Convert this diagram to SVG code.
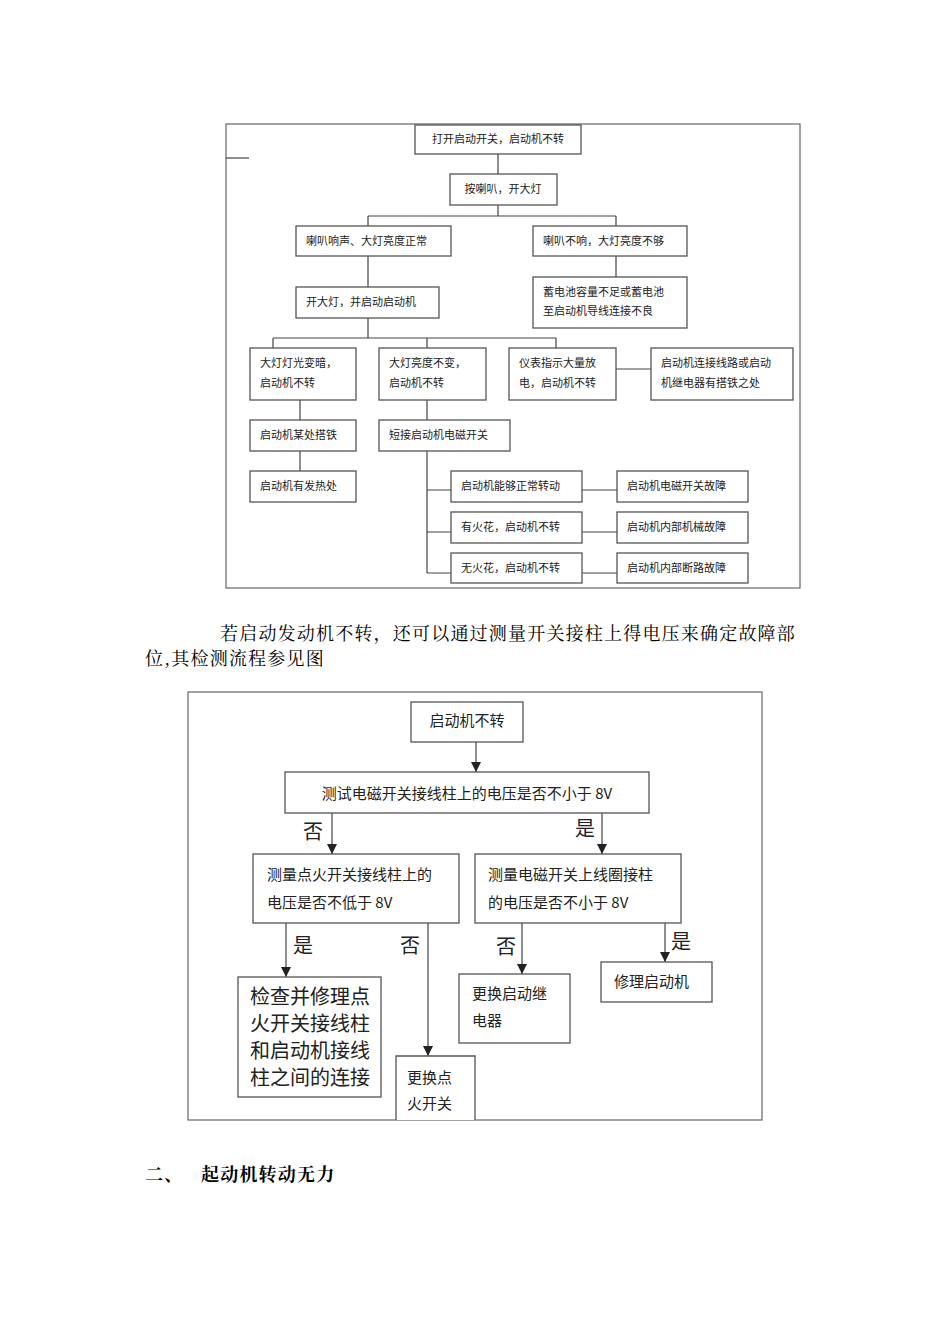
<svg xmlns="http://www.w3.org/2000/svg" width="950" height="1344" viewBox="0 0 950 1344">
<style>
.b{fill:#fff;stroke:#555;stroke-width:1.3}
.f{fill:none;stroke:#666;stroke-width:1.2}
.c{fill:none;stroke:#444;stroke-width:1.2}
.t{font-family:"Noto Sans CJK SC",sans-serif;font-size:11px;fill:#222}
.u{font-family:"Noto Sans CJK SC",sans-serif;font-size:15px;fill:#222}
.v{font-family:"Noto Sans CJK SC",sans-serif;font-size:20px;fill:#222}
.p{font-family:"Noto Serif CJK SC","Noto Sans CJK SC",serif;font-size:18px;letter-spacing:1.2px;fill:#000}
</style>
<defs>
<marker id="ar" viewBox="0 0 10 10" markerWidth="10" markerHeight="10" refX="10" refY="5" orient="auto" markerUnits="userSpaceOnUse"><path d="M0,0 L10,5 L0,10 z" fill="#222"/></marker></defs>
<rect width="950" height="1344" fill="#fff"/>
<rect class="f" x="226" y="124" width="574" height="464"/>
<line class="c" x1="226" y1="158" x2="249" y2="158" stroke-width="2"/>
<g id="connectors1">
<path class="c" d="M498,154V174 M498,205V216 M368,216H616 M368,216V226 M616,216V226 M368,256V287 M616,256V277 M368,318V338 M273,338H556 M273,338V348 M427,338V348 M556,338V348 M616,369H651 M300,400V420 M300,451V471 M427,400V420 M427,451V573 M427,490H451 M427,532H451 M427,573H451 M582,490H617 M582,532H617 M582,573H617"/>
</g>
<g id="n1"><rect class="b" x="415" y="125" width="166" height="29"/><text class="t" x="498" y="143" text-anchor="middle">打开启动开关，启动机不转</text></g>
<g id="n2"><rect class="b" x="450" y="174" width="107" height="31"/><text class="t" x="503" y="193" text-anchor="middle">按喇叭，开大灯</text></g>
<g id="n3"><rect class="b" x="296" y="226" width="155" height="30"/><text class="t" x="306" y="245">喇叭响声、大灯亮度正常</text></g>
<g id="n4"><rect class="b" x="533" y="226" width="154" height="30"/><text class="t" x="543" y="245">喇叭不响，大灯亮度不够</text></g>
<g id="n5"><rect class="b" x="296" y="287" width="143" height="31"/><text class="t" x="306" y="306">开大灯，并启动启动机</text></g>
<g id="n6"><rect class="b" x="533" y="277" width="154" height="51"/><text class="t" x="543" y="296">蓄电池容量不足或蓄电池</text><text class="t" x="543" y="315">至启动机导线连接不良</text></g>
<g id="n7"><rect class="b" x="250" y="348" width="106" height="52"/><text class="t" x="260" y="367">大灯灯光变暗，</text><text class="t" x="260" y="387">启动机不转</text></g>
<g id="n8"><rect class="b" x="379" y="348" width="107" height="52"/><text class="t" x="389" y="367">大灯亮度不变，</text><text class="t" x="389" y="387">启动机不转</text></g>
<g id="n9"><rect class="b" x="509" y="348" width="107" height="52"/><text class="t" x="519" y="367">仪表指示大量放</text><text class="t" x="519" y="387">电，启动机不转</text></g>
<g id="n10"><rect class="b" x="651" y="348" width="142" height="52"/><text class="t" x="661" y="367">启动机连接线路或启动</text><text class="t" x="661" y="387">机继电器有搭铁之处</text></g>
<g id="n11"><rect class="b" x="250" y="420" width="106" height="31"/><text class="t" x="260" y="439">启动机某处搭铁</text></g>
<g id="n12"><rect class="b" x="379" y="420" width="131" height="31"/><text class="t" x="389" y="439">短接启动机电磁开关</text></g>
<g id="n13"><rect class="b" x="250" y="471" width="106" height="31"/><text class="t" x="260" y="490">启动机有发热处</text></g>
<g id="n14"><rect class="b" x="451" y="471" width="131" height="31"/><text class="t" x="461" y="490">启动机能够正常转动</text></g>
<g id="n15"><rect class="b" x="451" y="512" width="131" height="31"/><text class="t" x="461" y="531">有火花，启动机不转</text></g>
<g id="n16"><rect class="b" x="451" y="553" width="131" height="30"/><text class="t" x="461" y="572">无火花，启动机不转</text></g>
<g id="n17"><rect class="b" x="617" y="471" width="131" height="31"/><text class="t" x="627" y="490">启动机电磁开关故障</text></g>
<g id="n18"><rect class="b" x="617" y="512" width="131" height="31"/><text class="t" x="627" y="531">启动机内部机械故障</text></g>
<g id="n19"><rect class="b" x="617" y="553" width="131" height="30"/><text class="t" x="627" y="572">启动机内部断路故障</text></g>

<text class="p" x="220" y="640">若启动发动机不转，还可以通过测量开关接柱上得电压来确定故障部</text>
<text class="p" x="145" y="665">位,其检测流程参见图</text>

<rect class="f" x="188" y="692" width="574" height="428"/>
<g id="connectors2">
<line class="c" x1="476" y1="742" x2="476" y2="772" marker-end="url(#ar)"/>
<line class="c" x1="332" y1="813" x2="332" y2="854" marker-end="url(#ar)"/>
<line class="c" x1="602" y1="813" x2="602" y2="854" marker-end="url(#ar)"/>
<line class="c" x1="286" y1="923" x2="286" y2="977" marker-end="url(#ar)"/>
<line class="c" x1="428" y1="923" x2="428" y2="1056" marker-end="url(#ar)"/>
<line class="c" x1="522" y1="923" x2="522" y2="974" marker-end="url(#ar)"/>
<line class="c" x1="665" y1="923" x2="665" y2="962" marker-end="url(#ar)"/>
<text class="v" x="303" y="839">否</text>
<text class="v" x="575" y="836">是</text>
<text class="v" x="293" y="953">是</text>
<text class="v" x="400" y="953">否</text>
<text class="v" x="496" y="954">否</text>
<text class="v" x="671" y="949">是</text>
</g>
<g id="m1"><rect class="b" x="411" y="702" width="112" height="40"/><text class="u" x="467" y="726" text-anchor="middle">启动机不转</text></g>
<g id="m2"><rect class="b" x="285" y="772" width="364" height="41"/><text class="u" x="467" y="799" text-anchor="middle">测试电磁开关接线柱上的电压是否不小于 8V</text></g>
<g id="m3"><rect class="b" x="253" y="854" width="206" height="69"/><text class="u" x="267" y="880">测量点火开关接线柱上的</text><text class="u" x="267" y="908">电压是否不低于 8V</text></g>
<g id="m4"><rect class="b" x="475" y="854" width="206" height="69"/><text class="u" x="488" y="880">测量电磁开关上线圈接柱</text><text class="u" x="488" y="908">的电压是否不小于 8V</text></g>
<g id="m5"><rect class="b" x="238" y="977" width="143" height="120"/><text class="v" x="250" y="1004">检查并修理点</text><text class="v" x="250" y="1031">火开关接线柱</text><text class="v" x="250" y="1058">和启动机接线</text><text class="v" x="250" y="1085">柱之间的连接</text></g>
<g id="m6"><path class="b" d="M396,1120V1056H475V1120"/><text class="u" x="407" y="1083">更换点</text><text class="u" x="407" y="1109">火开关</text></g>
<g id="m7"><rect class="b" x="459" y="974" width="111" height="69"/><text class="u" x="472" y="999">更换启动继</text><text class="u" x="472" y="1026">电器</text></g>
<g id="m8"><rect class="b" x="601" y="962" width="111" height="40"/><text class="u" x="614" y="987">修理启动机</text></g>

<text class="p" x="145" y="1181" font-weight="bold">二、</text>
<text class="p" x="201" y="1181" font-weight="bold">起动机转动无力</text>
</svg>
